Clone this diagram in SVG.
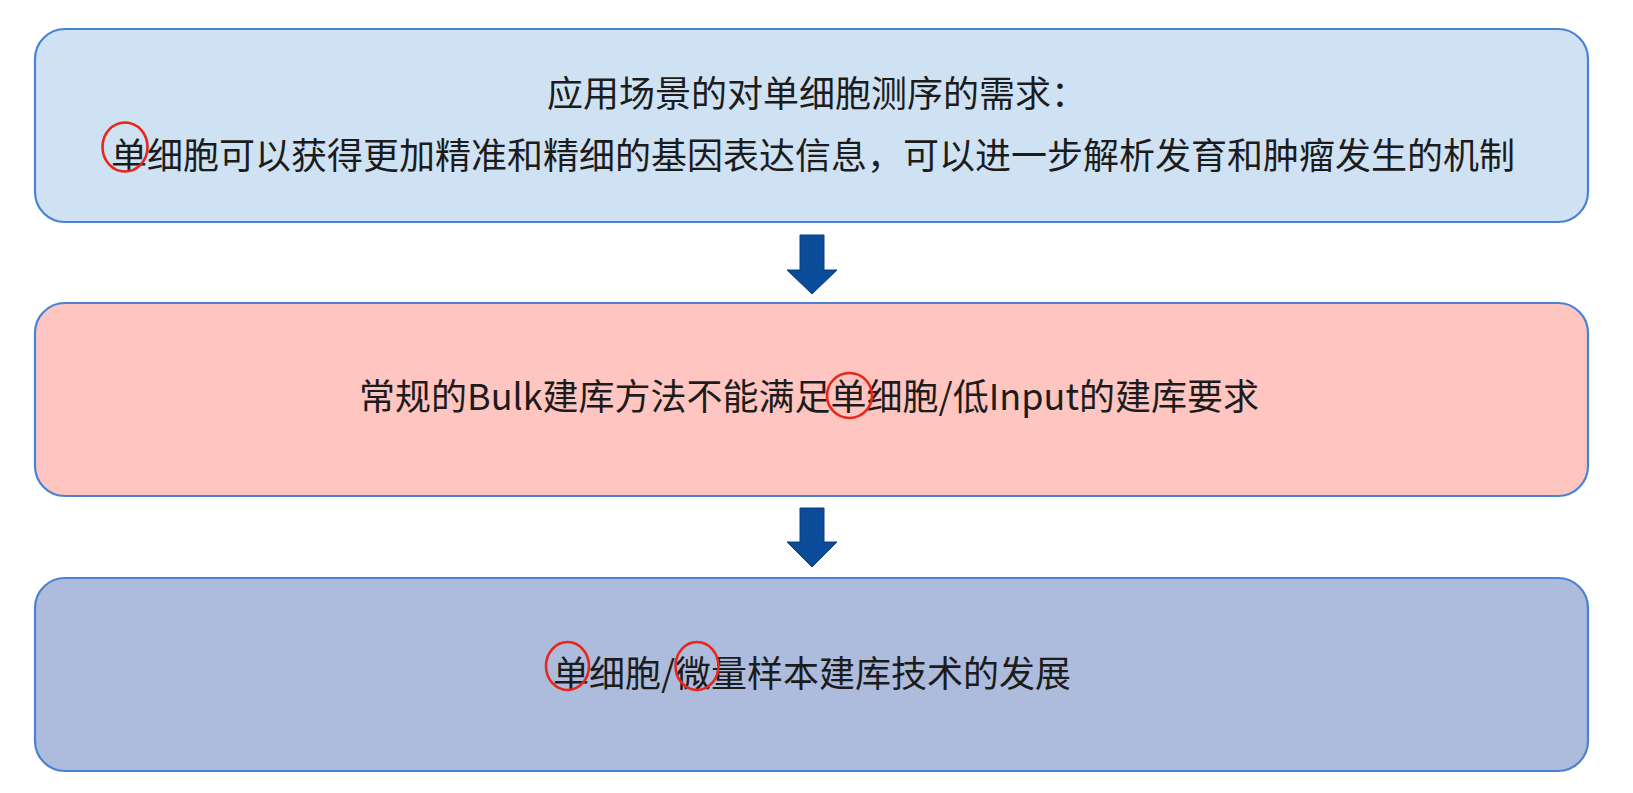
<svg xmlns="http://www.w3.org/2000/svg" width="1633" height="793" viewBox="0 0 1633 793">
<style>
.box{stroke:#4a82d2;stroke-width:2.2}
.t{font-family:"Microsoft YaHei","Noto Sans CJK SC","Noto Sans",sans-serif;font-size:36px;fill:#1c1c1c}
.mark{fill:none;stroke:#e8261c;stroke-width:2.6}
.arr{fill:#0b4c9a;stroke:#083f82;stroke-width:1}
</style>
<rect width="1633" height="793" fill="#ffffff"/>
<g id="node1">
<rect class="box" x="35" y="29" width="1553" height="193" rx="30" ry="30" fill="#cfe2f3"/>
<text class="t" x="547" y="107">应用场景的对单细胞测序的需求：</text>
<text class="t" x="111" y="169">单细胞可以获得更加精准和精细的基因表达信息，可以进一步解析发育和肿瘤发生的机制</text>
<ellipse class="mark" cx="125" cy="147" rx="22.5" ry="24.5"/>
</g>
<g id="node2">
<rect class="box" x="35" y="303" width="1553" height="193" rx="30" ry="30" fill="#ffc5c0"/>
<text class="t" x="359" y="410">常规的Bulk建库方法不能满足单细胞/低Input的建库要求</text>
<ellipse class="mark" cx="849.5" cy="395.5" rx="22.5" ry="22.5"/>
</g>
<g id="node3">
<rect class="box" x="35" y="578" width="1553" height="193" rx="30" ry="30" fill="#adbbdd"/>
<text class="t" x="553" y="687">单细胞/微量样本建库技术的发展</text>
<ellipse class="mark" cx="567.5" cy="666" rx="21.5" ry="24"/>
<ellipse class="mark" cx="697" cy="666" rx="21.5" ry="24"/>
</g>
<g id="connectors">
<polygon class="arr" points="800,235 824,235 824,270 837,270 812,294 787,270 800,270"/>
<polygon class="arr" points="800,508 824,508 824,542 837,542 812,567 787,542 800,542"/>
</g>
</svg>
